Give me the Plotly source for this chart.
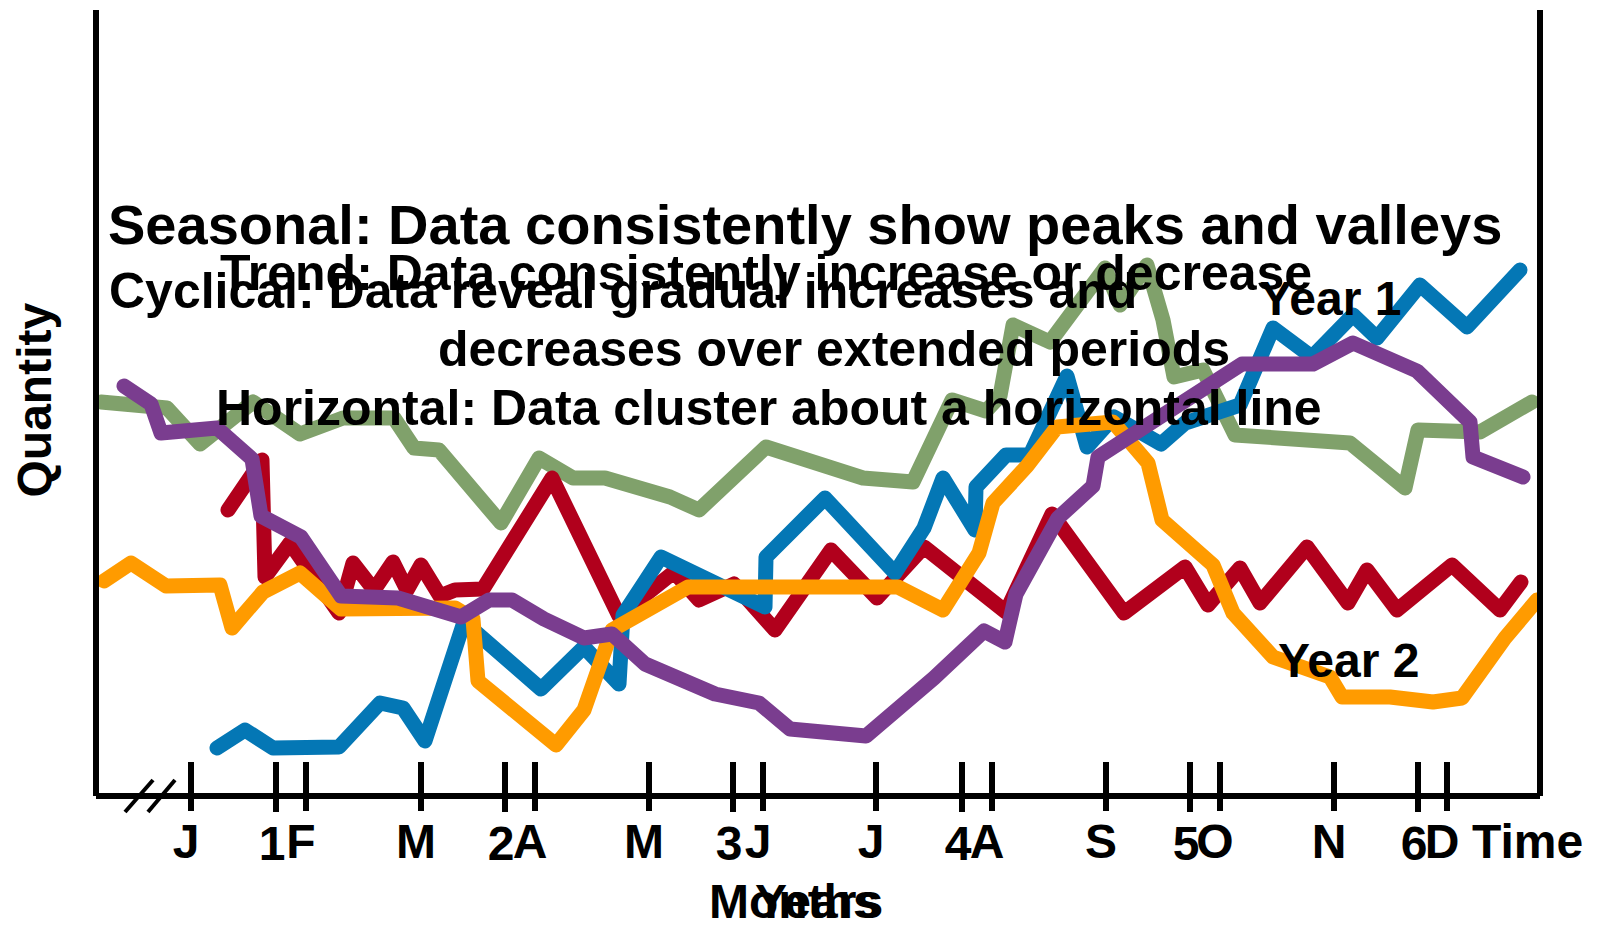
import plotly.graph_objects as go

# ---- series: time index (t) and quantity (q) ----
green_t = [0.5, 7.1, 10.4, 15.7, 20.4, 24.7, 29.8, 31.8, 34.3, 40.5, 44.3, 47.7, 50.9,
           57.4, 60.3, 67.0, 76.7, 81.7, 85.6, 89.0, 90.4, 91.7, 95.4, 100.9, 102.4,
           105.1, 106.7, 107.8, 110.7, 113.9, 125.4, 130.9, 132.2, 138.4, 143.6]
green_q = [39.4, 38.8, 35.2, 39.4, 36.2, 37.8, 37.8, 34.8, 34.6, 27.3, 33.8, 31.8, 31.8,
           29.9, 28.6, 34.9, 31.8, 31.4, 39.6, 38.5, 40.0, 47.1, 45.4, 52.8, 49.1,
           53.1, 47.6, 41.9, 42.6, 36.1, 35.3, 30.8, 36.6, 36.4, 39.4]

red_t = [13.2, 16.6, 16.9, 19.4, 24.3, 25.7, 27.8, 29.7, 31.1, 32.5, 34.4, 35.9, 38.7,
         45.6, 52.3, 57.8, 60.3, 63.8, 67.9, 73.5, 78.1, 82.8, 91.0, 95.6, 102.8,
         108.9, 111.2, 114.4, 116.4, 121.1, 125.2, 127.1, 130.1, 135.6, 140.4, 142.5]
red_q = [28.6, 33.6, 21.9, 25.3, 18.3, 23.3, 20.6, 23.4, 20.6, 23.1, 20.0, 20.6, 20.7,
         31.8, 18.0, 22.4, 19.6, 21.2, 16.6, 24.6, 19.8, 24.9, 18.4, 28.2, 18.3,
         22.9, 19.1, 22.8, 19.3, 24.9, 19.3, 22.6, 18.6, 23.1, 18.6, 21.4]

blue_t = [12.1, 14.9, 17.7, 24.3, 28.4, 30.7, 32.9, 36.8, 44.5, 48.8, 52.3, 52.7, 56.5,
          66.9, 67.0, 72.9, 79.9, 82.8, 84.7, 87.9, 88.0, 91.0, 93.4, 97.1, 99.1,
          101.8, 106.5, 108.9, 114.4, 117.7, 121.6, 125.7, 128.1, 132.4, 137.1, 142.4]
blue_q = [4.8, 6.6, 4.8, 4.9, 9.3, 8.8, 5.5, 17.4, 10.7, 14.9, 11.2, 18.1, 23.9,
          18.9, 23.9, 29.8, 22.3, 26.8, 31.8, 26.6, 30.9, 34.1, 34.1, 42.0, 34.9,
          37.9, 35.2, 37.3, 39.1, 46.8, 43.9, 48.1, 45.8, 51.1, 46.9, 52.6]

orange_t = [0.8, 3.5, 7.0, 12.4, 13.6, 16.7, 20.4, 24.5, 35.9, 37.7, 38.2, 46.0, 48.8,
            51.6, 59.2, 80.2, 84.7, 88.3, 89.7, 93.1, 96.1, 101.7, 105.2, 106.6,
            111.7, 113.7, 117.7, 123.4, 124.6, 129.4, 133.7, 136.6, 140.9, 144.1]
orange_q = [21.5, 23.3, 21.0, 21.1, 16.8, 20.4, 22.3, 18.7, 18.8, 17.7, 11.5, 5.1, 8.6,
            16.6, 20.9, 20.9, 18.6, 24.3, 29.3, 33.0, 36.9, 37.4, 33.3, 27.6,
            23.1, 18.3, 13.9, 11.9, 9.9, 9.9, 9.4, 9.8, 15.8, 19.6]

purple_t = [2.8, 5.5, 6.5, 12.1, 15.6, 16.5, 20.5, 24.5, 30.2, 36.5, 39.3, 41.6, 44.8,
            48.8, 51.6, 54.9, 61.9, 66.3, 69.4, 77.0, 83.8, 88.8, 90.9, 92.0, 96.2,
            99.7, 100.2, 114.6, 121.7, 125.7, 132.1, 137.4, 137.7, 142.7]
purple_q = [41.0, 39.2, 36.3, 36.8, 33.7, 28.0, 25.9, 20.0, 19.8, 17.9, 19.6, 19.6, 17.7,
            15.8, 16.2, 13.2, 10.2, 9.3, 6.7, 6.0, 11.8, 16.5, 15.4, 20.2, 27.8,
            31.0, 33.9, 43.2, 43.2, 45.3, 42.5, 37.4, 33.9, 31.9]

# ---- axis ticks ----
month_pos = [9.5, 21.0, 32.5, 43.9, 55.3, 66.7, 78.0, 89.6, 101.0, 112.4, 123.8, 135.1]
month_lbl = ["J", "F", "M", "A", "M", "J", "J", "A", "S", "O", "N", "D"]
year_pos = [18.0, 40.9, 63.7, 86.6, 109.4, 132.2]
year_lbl = ["1", "2", "3", "4", "5", "6"]

T_RANGE = [0, 144.4]
Q_RANGE = [0, 78.6]
FONT = "Liberation Sans"
LW = 15

series = [
    (green_t, green_q, "#80a16b"),
    (red_t, red_q, "#b1001c"),
    (blue_t, blue_q, "#0477b5"),
    (orange_t, orange_q, "#ff9b00"),
    (purple_t, purple_q, "#7a3d8f"),
]

fig = go.Figure()
for t, q, col in series:
    fig.add_trace(go.Scatter(x=t, y=q, mode="lines",
                             line=dict(color=col, width=LW),
                             showlegend=False, hoverinfo="skip"))

# empty carriers so the overlaid year / tick-mark axes get drawn
for ax in ("x2", "x3"):
    fig.add_trace(go.Scatter(x=[None], y=[None], xaxis=ax, yaxis="y",
                             mode="lines", showlegend=False, hoverinfo="skip"))

tick_font = dict(family=FONT, size=48, color="black", weight="bold")
common = dict(range=T_RANGE, showgrid=False, zeroline=False, showline=False,
              tickmode="array", tickwidth=6, tickcolor="black", fixedrange=True)

fig.update_layout(
    width=1597, height=927,
    margin=dict(l=96, r=57, t=10, b=131),
    paper_bgcolor="white", plot_bgcolor="white",
    xaxis=dict(**common, tickvals=month_pos, ticktext=month_lbl,
               ticks="outside", ticklen=14, tickfont=tick_font,
               ticklabelstandoff=-11, ticklabelshift=-5),
    xaxis2=dict(**common, overlaying="x", anchor="y", side="bottom",
                tickvals=year_pos, ticktext=year_lbl,
                ticks="outside", ticklen=15, tickfont=tick_font,
                ticklabelstandoff=-10, ticklabelshift=-4),
    xaxis3=dict(**common, overlaying="x", anchor="y", side="bottom",
                tickvals=month_pos + year_pos, ticks="inside", ticklen=34,
                showticklabels=False),
    yaxis=dict(range=Q_RANGE, visible=False, fixedrange=True),
)

# frame: left, bottom and right axis lines
frame = dict(type="line", xref="paper", yref="paper",
             line=dict(color="black", width=6), layer="above")
fig.add_shape(**frame, x0=0, x1=0, y0=0, y1=1)
fig.add_shape(**frame, x0=0, x1=1, y0=0, y1=0)
fig.add_shape(**frame, x0=1, x1=1, y0=0, y1=1)
# axis break marks on the time axis
brk = dict(type="line", xref="paper", yref="paper",
           line=dict(color="black", width=4), layer="above")
fig.add_shape(**brk, x0=0.0201, y0=-0.0204, x1=0.0395, y1=0.0204)
fig.add_shape(**brk, x0=0.0360, y0=-0.0204, x1=0.0547, y1=0.0204)


def label(text, x, y, size, ref="", xanchor="left", angle=0):
    fig.add_annotation(text=text, x=x, y=y,
                       xref="paper" if ref else "x", yref="paper" if ref else "y",
                       xanchor=xanchor, yanchor="middle", showarrow=False,
                       textangle=angle,
                       font=dict(family=FONT, size=size, color="black", weight="bold"))


label("Seasonal: Data consistently show peaks and valleys", 1.0, 57.2, 56)
label("Trend: Data consistently increase or decrease", 12.2, 52.3, 50)
label("Cyclical: Data reveal gradual increases and", 1.1, 50.5, 50)
label("decreases over extended periods", 34.0, 44.7, 50)
label("Horizontal: Data cluster about a horizontal line", 11.8, 38.8, 50)
label("Year 1", 116.2, 49.8, 48)
label("Year 2", 118.0, 13.6, 48)
label("Time", 0.9515, -0.0585, 48, ref="paper")
label("Months", 0.4231, -0.1345, 48, ref="paper")
label("Years", 0.4550, -0.1345, 48, ref="paper")
label("Quantity", -0.0426, 0.5038, 48, ref="paper", xanchor="center", angle=-90)

round_js = ("document.querySelectorAll('.scatterlayer path.js-line').forEach(function(p){"
            "p.style.strokeLinejoin='round';p.style.strokeLinecap='round';});")
fig.write_html("out.html", post_script=round_js)
